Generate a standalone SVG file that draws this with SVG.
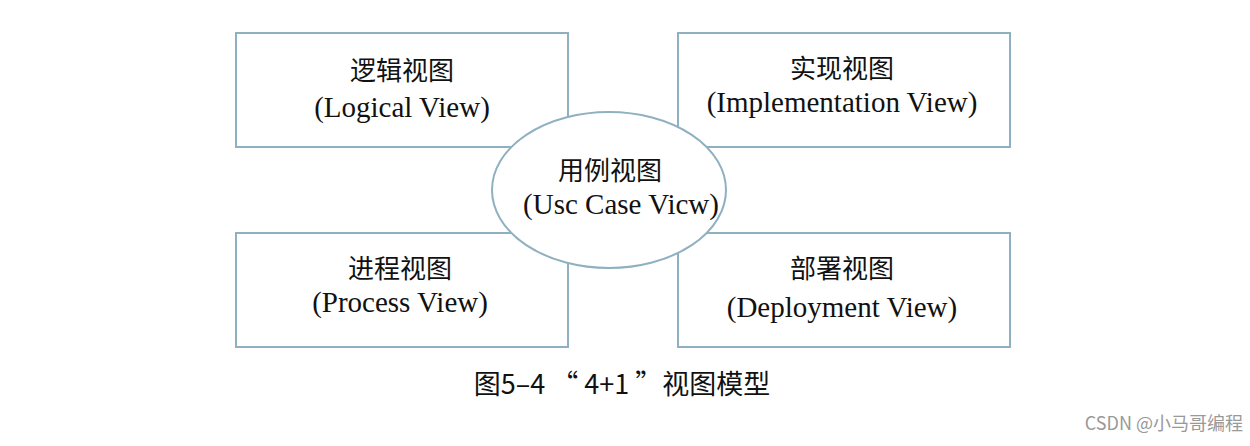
<svg xmlns="http://www.w3.org/2000/svg" width="1250" height="446" viewBox="0 0 1250 446">
<style>
.box{fill:#fff;stroke:#8fb0c0;stroke-width:2}
.cn{font-family:"Noto Sans CJK SC",sans-serif;font-size:26px;fill:#111;text-anchor:middle}
.en{font-family:"Liberation Serif",serif;font-size:29px;fill:#111;text-anchor:middle}
</style>
<rect width="1250" height="446" fill="#fff"/>
<g id="logical"><rect class="box" x="236" y="33" width="332" height="114"/><text class="cn" x="402" y="80">逻辑视图</text><text class="en" x="402" y="117">(Logical View)</text></g>
<g id="implementation"><rect class="box" x="678" y="33" width="332" height="114"/><text class="cn" x="842" y="78">实现视图</text><text class="en" x="842" y="112">(Implementation View)</text></g>
<g id="process"><rect class="box" x="236" y="233" width="332" height="114"/><text class="cn" x="400" y="278">进程视图</text><text class="en" x="400" y="312">(Process View)</text></g>
<g id="deployment"><rect class="box" x="678" y="233" width="332" height="114"/><text class="cn" x="842" y="278">部署视图</text><text class="en" x="842" y="317">(Deployment View)</text></g>
<g id="usecase"><ellipse class="box" cx="609" cy="190" rx="117" ry="78"/><text class="cn" x="610" y="180">用例视图</text><text class="en" x="621" y="214">(Usc Case Vicw)</text></g>
<g id="connectors"></g>
<text x="622" y="394" font-family="Noto Sans CJK SC,sans-serif" font-size="27" fill="#111" text-anchor="middle">图5–4 “ 4+1 ”视图模型</text>
<text x="1243" y="430" font-family="Noto Sans CJK SC,sans-serif" font-size="18" fill="#999" text-anchor="end">CSDN @小马哥编程</text>
</svg>
